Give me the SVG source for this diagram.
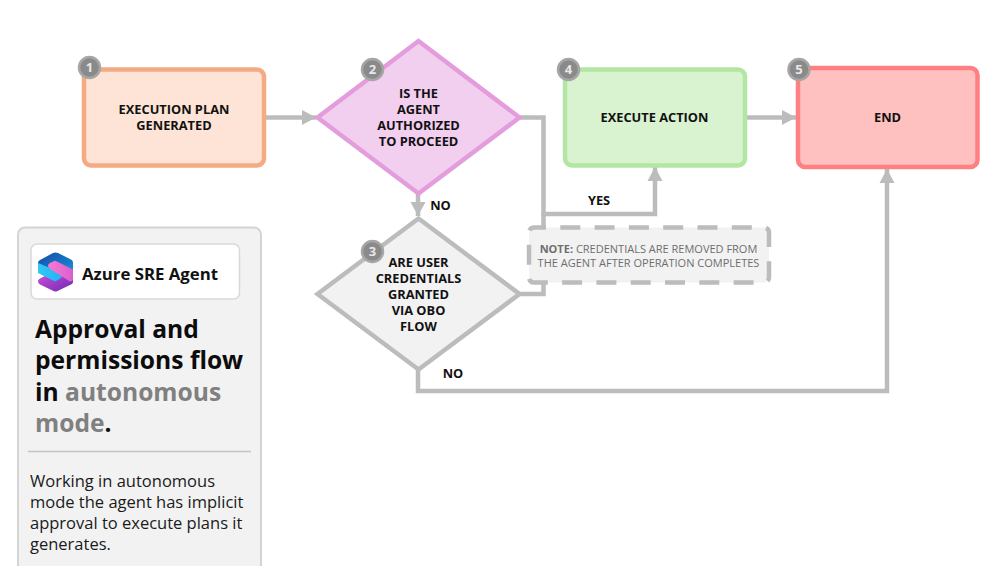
<svg xmlns="http://www.w3.org/2000/svg" width="1000" height="566" viewBox="0 0 1000 566">
<style>
text{font-family:"Open Sans","Noto Sans","Liberation Sans",sans-serif}
.l{font-size:12.8px;font-weight:700;fill:#111;text-anchor:middle}
.b{fill:#8a8a8a;stroke:#a6a6a6;stroke-width:2.5}
.bt{font-size:13px;font-weight:700;fill:#e8e8e8;text-anchor:middle}
.c{fill:none;stroke:#bcbcbc;stroke-width:4.5}
.t{font-size:24.6px;font-weight:700;fill:#0c0c0c}
.g{fill:#808080}
.d{font-size:16.5px;fill:#1a1a1a}
.n{font-size:11px;fill:#6e6e6e;text-anchor:middle}
</style>
<defs>
<marker id="a" markerUnits="userSpaceOnUse" markerWidth="16" markerHeight="16" refX="14" refY="8" orient="auto"><path d="M0 0.500L14 8L0 15.500Z" fill="#bcbcbc"/></marker>
<linearGradient id="g1" x1="0" y1="0" x2="1" y2="1"><stop offset="0" stop-color="#1a4aa8"/><stop offset="1" stop-color="#1296d8"/></linearGradient>
<linearGradient id="g2" x1="0" y1="0" x2="1" y2="0"><stop offset="0" stop-color="#33c8f5"/><stop offset="1" stop-color="#1fb4f5"/></linearGradient>
<linearGradient id="g3" x1="0" y1="0" x2="1" y2="0"><stop offset="0" stop-color="#f97ad0"/><stop offset="1" stop-color="#d85fd0"/></linearGradient>
<linearGradient id="g4" x1="0" y1="0" x2="1" y2="1"><stop offset="0" stop-color="#d04fdc"/><stop offset="1" stop-color="#6f2ab0"/></linearGradient>
</defs>
<g id="connectors">
<path class="c" d="M266 117.500H316" marker-end="url(#a)"/>
<path class="c" d="M518 117.500H543.500V214H655V167" marker-end="url(#a)"/>
<path class="c" d="M418 194V216" marker-end="url(#a)"/>
<path class="c" d="M518 294H543.500V214"/>
<path class="c" d="M418 370V391H887V169" marker-end="url(#a)"/>
<path class="c" d="M746 117.500H796" marker-end="url(#a)"/>
</g>
<g id="panel">
<rect x="18" y="227.500" width="243" height="350" rx="7" fill="#f2f2f2" stroke="#d4d4d4" stroke-width="2"/>
<rect x="31" y="244" width="208.500" height="55" rx="6" fill="#fff" stroke="#d9d9d9" stroke-width="1.500"/>
<g id="logo">
<path d="M38 281Q38 279.500 40 278.500L55 271L73 278V282Q73 283.500 71 284.500L57 291.200Q55.500 292 54 291.200L40 284.500Q38 283.500 38 281Z" fill="url(#g4)"/>
<path d="M38 263Q38 261 40 260L53 253Q55.500 252 58 253L71 259.500Q73 260.500 73 262.500V270L56 276L38 268Z" fill="url(#g1)"/>
<path d="M38 263L60 272Q64 275 61 278L56 281Q55 281.500 53 280.500L38 273Z" fill="url(#g2)"/>
<path d="M50 269Q46 265 50 263L54 261Q55 260.500 57 261.500L73 269.500V279Q73 281 70 281.500Z" fill="url(#g3)"/>
</g>
<text x="82" y="280" font-size="16.800" font-weight="700" fill="#111">Azure SRE Agent</text>
<text class="t" x="35" y="338">Approval and</text>
<text class="t" x="35" y="369">permissions flow</text>
<text class="t" x="35" y="401">in <tspan class="g">autonomous</tspan></text>
<text class="t" x="35" y="432"><tspan class="g">mode</tspan>.</text>
<path d="M28 451.500H251" stroke="#c4c4c4" stroke-width="1.500"/>
<text class="d" x="30" y="487">Working in autonomous</text>
<text class="d" x="30" y="508">mode the agent has implicit</text>
<text class="d" x="30" y="529">approval to execute plans it</text>
<text class="d" x="30" y="550">generates.</text>
</g>
<g id="node1">
<rect x="84" y="69.500" width="180" height="96" rx="7" fill="#fde4d6" stroke="#f4aa82" stroke-width="4.500"/>
<text class="l" x="174" y="114">EXECUTION PLAN</text>
<text class="l" x="174" y="130">GENERATED</text>
<circle class="b" cx="89.500" cy="67.500" r="10.500"/><text class="bt" x="89.500" y="72">1</text>
</g>
<g id="node2">
<path d="M418.500 41L519.500 117.500L418.500 193.500L317.500 117.500Z" fill="#f2ceef" stroke="#e39cdc" stroke-width="4.500"/>
<text class="l" x="418.500" y="97.500">IS THE</text>
<text class="l" x="418.500" y="113.500">AGENT</text>
<text class="l" x="418.500" y="129.500">AUTHORIZED</text>
<text class="l" x="418.500" y="145.500">TO PROCEED</text>
<circle class="b" cx="372.500" cy="69.500" r="10.500"/><text class="bt" x="372.500" y="74">2</text>
</g>
<g id="node3">
<path d="M418.500 218.500L519.500 294L418.500 369.500L317.500 294Z" fill="#f2f2f2" stroke="#bcbcbc" stroke-width="4.500"/>
<text class="l" x="418.500" y="267">ARE USER</text>
<text class="l" x="418.500" y="283">CREDENTIALS</text>
<text class="l" x="418.500" y="299">GRANTED</text>
<text class="l" x="418.500" y="315">VIA OBO</text>
<text class="l" x="418.500" y="331">FLOW</text>
<circle class="b" cx="372.500" cy="251.500" r="10.500"/><text class="bt" x="372.500" y="256">3</text>
</g>
<g id="node4">
<rect x="565" y="69.500" width="180" height="96" rx="7" fill="#d9f3d0" stroke="#b2e6a2" stroke-width="4.500"/>
<text class="l" x="654.500" y="122">EXECUTE ACTION</text>
<circle class="b" cx="568.500" cy="69.500" r="10.500"/><text class="bt" x="568.500" y="74">4</text>
</g>
<g id="node5">
<rect x="798" y="68" width="179.500" height="99" rx="7" fill="#ffc0c0" stroke="#fe8082" stroke-width="4.500"/>
<text class="l" x="887.500" y="122">END</text>
<circle class="b" cx="799" cy="69.500" r="10.500"/><text class="bt" x="799" y="74">5</text>
</g>
<g id="note">
<rect x="529" y="227.500" width="240" height="55" rx="5" fill="#f2f2f2" stroke="#bcbcbc" stroke-width="4.500" stroke-dasharray="20 14.300" stroke-dashoffset="8"/>
<text class="n" x="648.500" y="253"><tspan font-weight="700">NOTE:</tspan> CREDENTIALS ARE REMOVED FROM</text>
<text class="n" x="648.500" y="267">THE AGENT AFTER OPERATION COMPLETES</text>
</g>
<g id="labels">
<text class="l" x="440.500" y="210">NO</text>
<text class="l" x="453" y="378">NO</text>
<text class="l" x="599" y="205">YES</text>
</g>
</svg>
